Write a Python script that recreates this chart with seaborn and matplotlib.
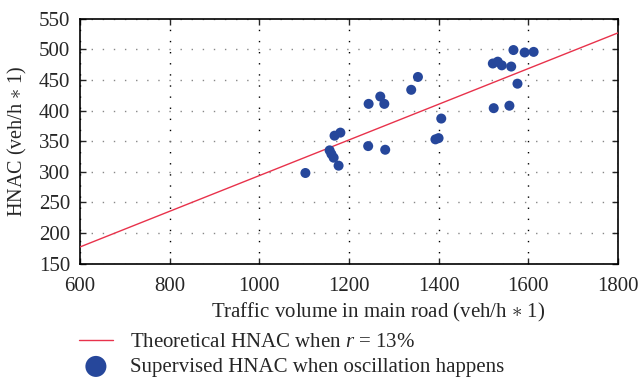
import matplotlib.pyplot as plt
import numpy as np
import pandas as pd
import seaborn as sns

# Theoretical HNAC line (r = 13%)
line_volume = [600, 1800]
line_hnac = [177, 527]

# Supervised HNAC when oscillation happens
obs_volume = [1103, 1157, 1161, 1166, 1177, 1168, 1181, 1244, 1270, 1279,
              1243, 1281, 1339, 1354, 1393, 1400, 1406, 1567, 1592, 1612,
              1521, 1532, 1541, 1562, 1576, 1523, 1558]
obs_hnac = [298, 335, 329, 323, 310, 359, 364, 411, 423, 411,
            342, 336, 434, 455, 353, 355, 387, 499, 495, 496,
            477, 480, 474, 472, 444, 404, 408]

x_ticks = [600, 800, 1000, 1200, 1400, 1600, 1800]
y_ticks = [150, 200, 250, 300, 350, 400, 450, 500, 550]

sns.set_style('ticks')
plt.rcParams['font.family'] = ['Liberation Serif', 'DejaVu Serif']
plt.rcParams['mathtext.fontset'] = 'custom'
plt.rcParams['mathtext.rm'] = 'Liberation Serif'
plt.rcParams['mathtext.it'] = 'Liberation Serif:italic'

line_df = pd.DataFrame({'volume': line_volume, 'hnac': line_hnac})
obs_df = pd.DataFrame({'volume': obs_volume, 'hnac': obs_hnac})

fig = plt.figure(figsize=(6.39, 3.77), dpi=100)
ax = fig.add_axes([0.125, 0.301, 0.842, 0.649])

sns.lineplot(data=line_df, x='volume', y='hnac', color='#e8324b', lw=1.0,
             label='Theoretical HNAC when $r$ = 13%', ax=ax, zorder=3)
sns.scatterplot(data=obs_df, x='volume', y='hnac', color='#26479b', s=52,
                edgecolor='none', label='Supervised HNAC when oscillation happens',
                ax=ax, zorder=4)

ax.set_xlim(600, 1800)
ax.set_ylim(150, 550)
ax.set_xticks(x_ticks)
ax.set_yticks(y_ticks)
ax.tick_params(direction='in', top=True, right=True, length=4, width=1,
               labelsize=15, pad=7)
ax.tick_params(axis='x', pad=10)
for s in ax.spines.values():
    s.set_linewidth(1.2)
    s.set_color('black')

ax.xaxis.grid(True, color='black', lw=1.0, linestyle=(0, (1, 7)))
ax.yaxis.grid(True, color='#888888', lw=1.0, linestyle=(0, (1, 7)))
ax.set_axisbelow(True)

ax.set_xlabel('Traffic volume in main road (veh/h $\\ast$ 1)', fontsize=15)
ax.xaxis.set_label_coords(0.554, -0.155)
ax.set_ylabel('HNAC (veh/h $\\ast$ 1)', fontsize=14.5, labelpad=7)

handles, labels = ax.get_legend_handles_labels()
ax.get_legend().remove()
fig.legend(handles, labels, loc='upper left', bbox_to_anchor=(0.124, 0.118),
           frameon=False, fontsize=15, markerscale=2.1, handlelength=1.6,
           handletextpad=0.85, labelspacing=0.25, borderpad=0, borderaxespad=0)

plt.savefig('out.png', dpi=100)
